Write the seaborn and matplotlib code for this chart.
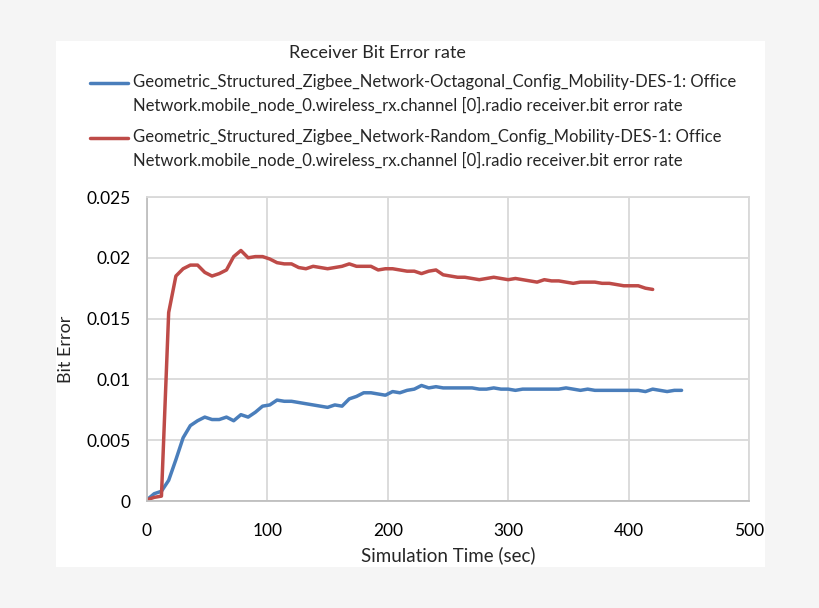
import numpy as np
import pandas as pd
import matplotlib
matplotlib.use('Agg')
import matplotlib.pyplot as plt
from matplotlib.patches import Rectangle
from matplotlib.lines import Line2D
import seaborn as sns

octagonal_ber = [
    0.0001, 0.0006, 0.0008, 0.0017, 0.0034, 0.0052, 0.0062, 0.0066, 0.0069, 0.0067,
    0.0067, 0.0069, 0.0066, 0.0071, 0.0069, 0.0073, 0.0078, 0.0079, 0.0083, 0.0082,
    0.0082, 0.0081, 0.0080, 0.0079, 0.0078, 0.0077, 0.0079, 0.0078, 0.0084, 0.0086,
    0.0089, 0.0089, 0.0088, 0.0087, 0.0090, 0.0089, 0.0091, 0.0092, 0.0095, 0.0093,
    0.0094, 0.0093, 0.0093, 0.0093, 0.0093, 0.0093, 0.0092, 0.0092, 0.0093, 0.0092,
    0.0092, 0.0091, 0.0092, 0.0092, 0.0092, 0.0092, 0.0092, 0.0092, 0.0093, 0.0092,
    0.0091, 0.0092, 0.0091, 0.0091, 0.0091, 0.0091, 0.0091, 0.0091, 0.0091, 0.0090,
    0.0092, 0.0091, 0.0090, 0.0091, 0.0091,
]
random_ber = [
    0.0001, 0.0003, 0.0004, 0.0155, 0.0185, 0.0191, 0.0194, 0.0194, 0.0188, 0.0185,
    0.0187, 0.0190, 0.0201, 0.0206, 0.0200, 0.0201, 0.0201, 0.0199, 0.0196, 0.0195,
    0.0195, 0.0192, 0.0191, 0.0193, 0.0192, 0.0191, 0.0192, 0.0193, 0.0195, 0.0193,
    0.0193, 0.0193, 0.0190, 0.0191, 0.0191, 0.0190, 0.0189, 0.0189, 0.0187, 0.0189,
    0.0190, 0.0186, 0.0185, 0.0184, 0.0184, 0.0183, 0.0182, 0.0183, 0.0184, 0.0183,
    0.0182, 0.0183, 0.0182, 0.0181, 0.0180, 0.0182, 0.0181, 0.0181, 0.0180, 0.0179,
    0.0180, 0.0180, 0.0180, 0.0179, 0.0179, 0.0178, 0.0177, 0.0177, 0.0177, 0.0175,
    0.0174,
]
octagonal_time = [6 * i for i in range(len(octagonal_ber))]
random_time = [6 * i for i in range(len(random_ber))]

octagonal_label = ("Geometric_Structured_Zigbee_Network-Octagonal_Config_Mobility-DES-1: Office\n"
                   "Network.mobile_node_0.wireless_rx.channel [0].radio receiver.bit error rate")
random_label = ("Geometric_Structured_Zigbee_Network-Random_Config_Mobility-DES-1: Office\n"
                "Network.mobile_node_0.wireless_rx.channel [0].radio receiver.bit error rate")
blue = '#4a7ebb'
red = '#be4b48'

df = pd.concat([
    pd.DataFrame({'time': octagonal_time, 'ber': octagonal_ber, 'series': octagonal_label}),
    pd.DataFrame({'time': random_time, 'ber': random_ber, 'series': random_label}),
])

sns.set_theme(style="whitegrid")
plt.rcParams['font.family'] = ['Lato', 'DejaVu Sans']

fig = plt.figure(figsize=(8.2, 6.08), dpi=100, facecolor='#f5f5f5')
# white chart panel
fig.patches.append(Rectangle((56 / 820, 1 - 567 / 608), (765 - 56) / 820, (567 - 41) / 608,
                             transform=fig.transFigure, facecolor='white', edgecolor='none', zorder=-5))

ax = fig.add_axes([147 / 820, 1 - 501 / 608, 602 / 820, 304 / 608])
sns.lineplot(data=df, x='time', y='ber', hue='series',
             palette={octagonal_label: blue, random_label: red},
             linewidth=2.5, ax=ax, legend=False)

ax.set_xlim(0, 500)
ax.set_ylim(0, 0.025)
ax.set_xticks([0, 100, 200, 300, 400, 500])
ax.set_yticks([0, 0.005, 0.01, 0.015, 0.02, 0.025])
ax.set_yticklabels(['0', '0.005', '0.01', '0.015', '0.02', '0.025'])
ax.grid(color='#d9d9d9', linewidth=1.3)
for s in ax.spines.values():
    s.set_color('#d9d9d9')
    s.set_linewidth(1.3)
ax.spines['left'].set_color('#bfbfbf')
ax.spines['bottom'].set_color('#bfbfbf')
ax.tick_params(axis='both', labelsize=12.5, colors='black', length=0)
ax.tick_params(axis='x', pad=16)
ax.tick_params(axis='y', pad=12)
ax.set_xlabel('Simulation Time (sec)', fontsize=13.5, labelpad=5)
ax.set_ylabel('Bit Error', fontsize=13, labelpad=9)

fig.text(377 / 820, 1 - 53 / 608, 'Receiver Bit Error rate', ha='center', va='center', fontsize=13)

# legend, drawn by hand so the key line sits on the first text line
for label, color, ytop in [(octagonal_label, blue, 83), (random_label, red, 138)]:
    y = 1 - ytop / 608
    fig.add_artist(Line2D([90 / 820, 128 / 820], [y, y], color=color, lw=2.5,
                          transform=fig.transFigure))
    fig.text(133 / 820, 1 - (ytop + 6) / 608, label, ha='left', va='center_baseline',
             fontsize=12, linespacing=1.55)

plt.savefig('out.png', dpi=100, facecolor=fig.get_facecolor())
